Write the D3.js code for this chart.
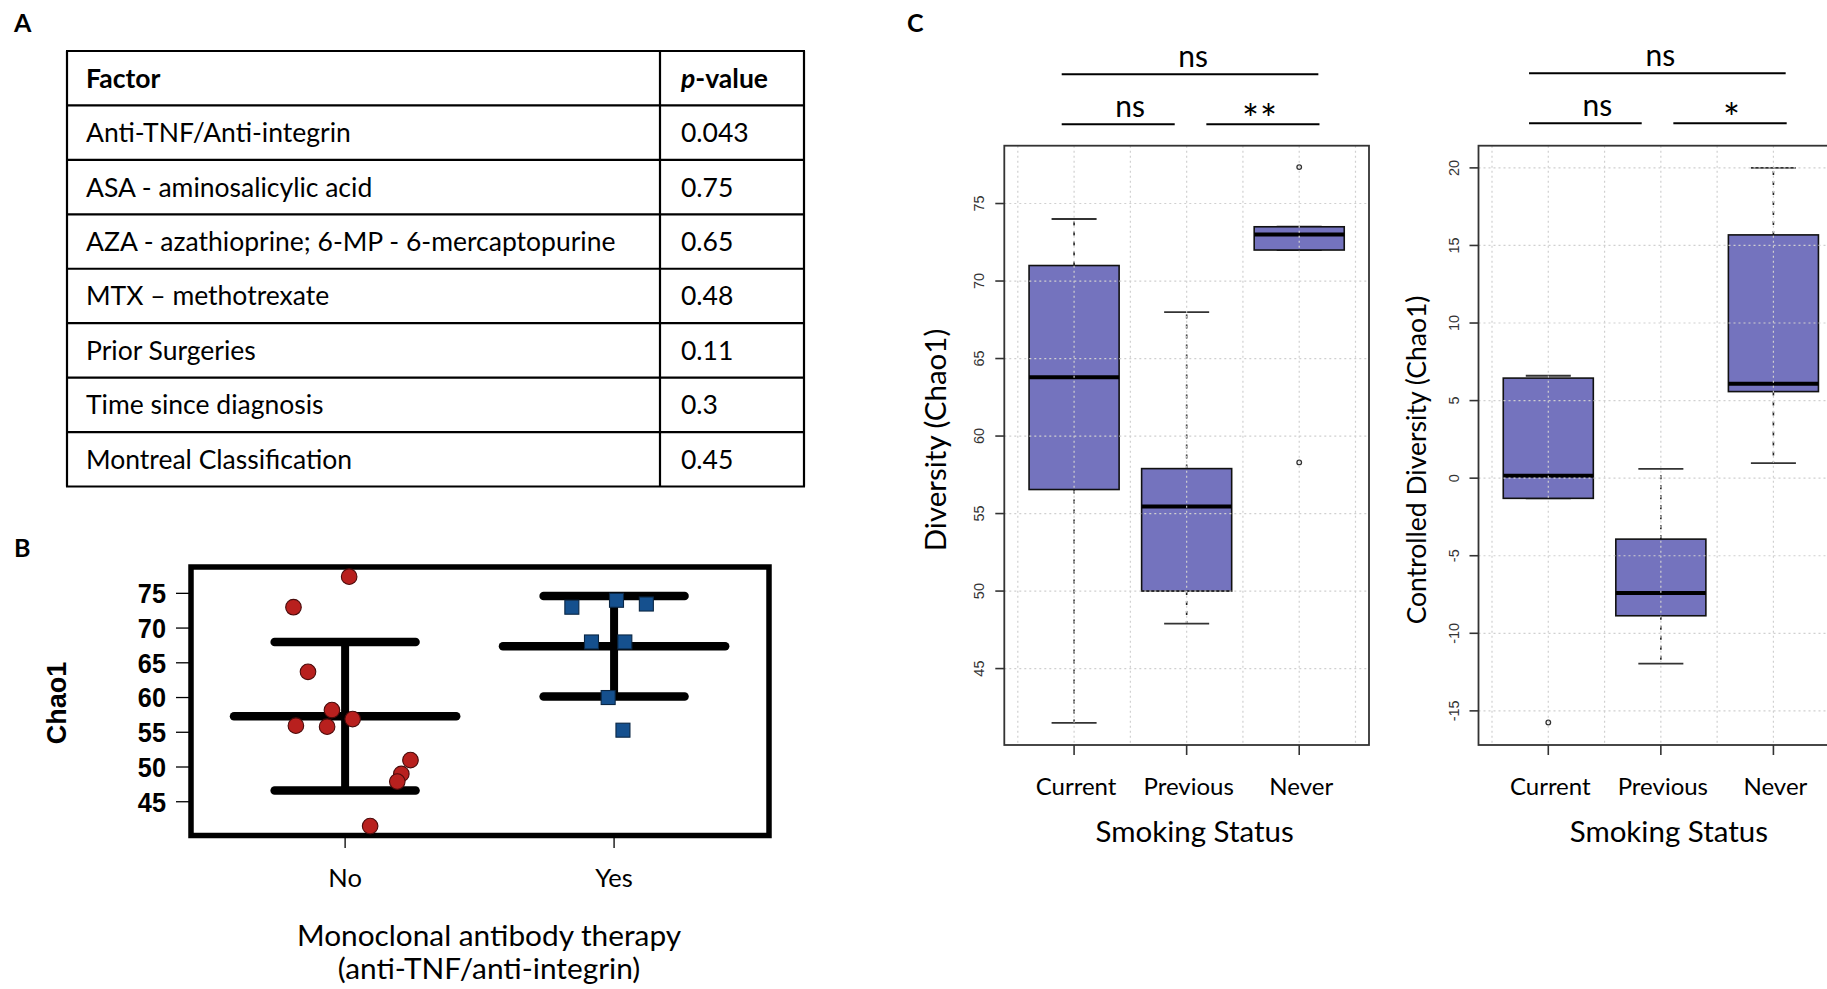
<!DOCTYPE html>
<html><head><meta charset="utf-8">
<script src="https://cdn.jsdelivr.net/npm/d3@7"></script>
<style>body{margin:0;background:#fff} svg{display:block}</style>
</head><body>
<svg id="fig" width="1827" height="989"></svg>
<script>
// ---------------- DATA ----------------
const tableHeaderFactor = "Factor";
const tableFactors = [
  "Anti-TNF/Anti-integrin",
  "ASA - aminosalicylic acid",
  "AZA - azathioprine; 6-MP - 6-mercaptopurine",
  "MTX \u2013 methotrexate",
  "Prior Surgeries",
  "Time since diagnosis",
  "Montreal Classification"
];
const tablePValues = ["0.043", "0.75", "0.65", "0.48", "0.11", "0.3", "0.45"];

const therapyGroups = ["No", "Yes"];
const chaoNo =        [77.4, 73.0, 63.7, 58.2, 55.8, 55.95, 56.9, 51.0, 49.0, 47.9, 41.5];
const chaoNoJitter =  [0.015, -0.192, -0.138, -0.049, -0.067, -0.183, 0.028, 0.243, 0.209, 0.194, 0.093];
const chaoYes =       [73.0, 74.0, 73.46, 68.0, 68.0, 60.0, 55.3];
const chaoYesJitter = [-0.157, 0.009, 0.12, -0.084, 0.040, -0.022, 0.033];
const chaoTicks = [45, 50, 55, 60, 65, 70, 75];

const smokingStatus = ["Current", "Previous", "Never"];
const divMin =    [41.5, 47.9, 72.0];
const divQ1 =     [56.55, 50.0, 72.0];
const divMedian = [63.8, 55.45, 73.0];
const divQ3 =     [71.0, 57.9, 73.5];
const divMax =    [74.0, 68.0, 73.5];
const divOutliers = [[], [], [77.35, 58.3]];
const divTicks = [45, 50, 55, 60, 65, 70, 75];

const ctlMin =    [-1.3, -11.95, 0.97];
const ctlQ1 =     [-1.3, -8.87, 5.58];
const ctlMedian = [0.15, -7.4, 6.08];
const ctlQ3 =     [6.45, -3.93, 15.68];
const ctlMax =    [6.6, 0.6, 20.0];
const ctlOutliers = [[-15.75], [], []];
const ctlTicks = [-15, -10, -5, 0, 5, 10, 15, 20];

const divComparisons = [["Current", "Never", "ns"], ["Current", "Previous", "ns"], ["Previous", "Never", "**"]];
const ctlComparisons = [["Current", "Never", "ns"], ["Current", "Previous", "ns"], ["Previous", "Never", "*"]];

// ---------------- DRAWING ----------------
const svg = d3.select("#fig");
svg.append("rect").attr("width", 1827).attr("height", 989).attr("fill", "#fff");
const CAL = "Lato, 'Open Sans', sans-serif";
const HEL = "'Liberation Sans', Arial, sans-serif";

// Panel letters
[["A", 14, 32], ["B", 14, 557], ["C", 907, 32]].forEach(([t, x, y]) =>
  svg.append("text").attr("x", x).attr("y", y).text(t)
    .attr("font-family", CAL).attr("font-weight", 700).attr("font-size", 25));

// ---- Panel A : table ----
(function () {
  const g = svg.append("g");
  const rows = [tableHeaderFactor].concat(tableFactors);
  const left = 67, right = 804, div = 660, top = 51, bottom = 486.5;
  const yRow = d3.scaleBand().domain(d3.range(rows.length)).range([top, bottom]);
  g.selectAll("line.h").data(d3.range(rows.length + 1)).join("line")
    .attr("x1", left - 1).attr("x2", right + 1)
    .attr("y1", i => i < rows.length ? yRow(i) : bottom)
    .attr("y2", i => i < rows.length ? yRow(i) : bottom)
    .attr("stroke", "#000").attr("stroke-width", 2.2);
  [left, div, right].forEach(x => g.append("line").attr("x1", x).attr("x2", x)
    .attr("y1", top).attr("y2", bottom).attr("stroke", "#000").attr("stroke-width", 2.2));
  const fs = 26.5;
  g.selectAll("text.f").data(rows).join("text")
    .attr("x", 86).attr("y", (d, i) => yRow(i) + yRow.bandwidth() / 2 + 9.5)
    .attr("font-family", CAL).attr("font-size", fs)
    .attr("font-weight", (d, i) => i === 0 ? 700 : 400).text(d => d);
  const ph = g.append("text").attr("x", 681).attr("y", yRow(0) + yRow.bandwidth() / 2 + 9.5)
    .attr("font-family", CAL).attr("font-size", fs).attr("font-weight", 700);
  ph.append("tspan").attr("font-style", "italic").text("p");
  ph.append("tspan").text("-value");
  g.selectAll("text.p").data(tablePValues).join("text")
    .attr("x", 681).attr("y", (d, i) => yRow(i + 1) + yRow.bandwidth() / 2 + 9.5)
    .attr("font-family", CAL).attr("font-size", fs).text(d => d);
})();

// ---- Panel B : dot plot ----
(function () {
  const g = svg.append("g");
  const x = d3.scaleLinear().domain([0.427, 2.576]).range([191, 769]);
  const y = d3.scaleLinear().domain([40.14, 78.79]).range([835.5, 567]);
  g.selectAll("line.yt").data(chaoTicks).join("line")
    .attr("x1", 176).attr("x2", 191).attr("y1", d => y(d)).attr("y2", d => y(d))
    .attr("stroke", "#000").attr("stroke-width", 1.3);
  g.selectAll("text.yt").data(chaoTicks).join("text")
    .attr("x", 166).attr("y", d => y(d)).attr("dy", "0.36em").attr("text-anchor", "end")
    .attr("font-family", HEL).attr("font-weight", 700).attr("font-size", 27.5)
    .attr("transform", d => `translate(${166},${y(d)}) scale(0.92,1) translate(${-166},${-y(d)})`)
    .text(d => d);
  g.append("text").attr("transform", `translate(66,703) rotate(-90)`)
    .attr("text-anchor", "middle").attr("font-family", HEL).attr("font-weight", 700)
    .attr("font-size", 27).text("Chao1");
  g.selectAll("line.xt").data(therapyGroups).join("line")
    .attr("x1", (d, i) => x(i + 1)).attr("x2", (d, i) => x(i + 1))
    .attr("y1", 836).attr("y2", 848).attr("stroke", "#000").attr("stroke-width", 1.3);
  g.selectAll("text.xt").data(therapyGroups).join("text")
    .attr("x", (d, i) => x(i + 1)).attr("y", 887).attr("text-anchor", "middle")
    .attr("font-family", CAL).attr("font-size", 25.5).text(d => d);
  g.append("text").attr("x", 489).attr("y", 946).attr("text-anchor", "middle")
    .attr("font-family", CAL).attr("font-size", 29.8).text("Monoclonal antibody therapy");
  g.append("text").attr("x", 489).attr("y", 979).attr("text-anchor", "middle")
    .attr("font-family", CAL).attr("font-size", 29.8).text("(anti-TNF/anti-integrin)");
  g.append("rect").attr("x", 191).attr("y", 567).attr("width", 578).attr("height", 268.5)
    .attr("fill", "none").attr("stroke", "#000").attr("stroke-width", 5.5);
  [chaoNo, chaoYes].forEach((vals, i) => {
    const m = d3.mean(vals), s = d3.deviation(vals), cx = i + 1;
    g.append("line").attr("x1", x(cx)).attr("x2", x(cx)).attr("y1", y(m + s)).attr("y2", y(m - s))
      .attr("stroke", "#000").attr("stroke-width", 8);
    [[m, 0.413], [m + s, 0.262], [m - s, 0.262]].forEach(([v, hw]) =>
      g.append("line").attr("x1", x(cx - hw)).attr("x2", x(cx + hw)).attr("y1", y(v)).attr("y2", y(v))
        .attr("stroke", "#000").attr("stroke-width", 8.5).attr("stroke-linecap", "round"));
  });
  g.selectAll("circle.no").data(chaoNo).join("circle")
    .attr("cx", (d, i) => x(1 + chaoNoJitter[i])).attr("cy", d => y(d)).attr("r", 7.8)
    .attr("fill", "#b8201e").attr("stroke", "#4a0b0b").attr("stroke-width", 1.1);
  g.selectAll("rect.yes").data(chaoYes).join("rect")
    .attr("x", (d, i) => x(2 + chaoYesJitter[i]) - 7).attr("y", d => y(d) - 7)
    .attr("width", 14).attr("height", 14)
    .attr("fill", "#15508e").attr("stroke", "#0b2744").attr("stroke-width", 1.1);
})();

// ---- Panel C : boxplots ----
function boxPanel(opt) {
  const g = svg.append("g");
  const x = d3.scaleLinear().domain([0.38, 3.62]).range([opt.left, opt.left + 364.7]);
  const y = d3.scaleLinear().domain(opt.ydom).range([745, 145.7]);
  const cats = smokingStatus;
  const hw = 0.4, cw = 0.2;
  cats.forEach((c, i) => {
    const cx = i + 1;
    [[opt.q3[i], opt.max[i]], [opt.q1[i], opt.min[i]]].forEach(([a, b]) => {
      if (a !== b) g.append("line").attr("x1", x(cx)).attr("x2", x(cx)).attr("y1", y(a)).attr("y2", y(b))
        .attr("stroke", "#222").attr("stroke-width", 1.6).attr("stroke-dasharray", "4,6");
    });
    [opt.max[i], opt.min[i]].forEach(v => g.append("line")
      .attr("x1", x(cx - cw)).attr("x2", x(cx + cw)).attr("y1", y(v)).attr("y2", y(v))
      .attr("stroke", "#333").attr("stroke-width", 1.8));
    g.append("rect").attr("x", x(cx - hw)).attr("width", x(cx + hw) - x(cx - hw))
      .attr("y", y(opt.q3[i])).attr("height", y(opt.q1[i]) - y(opt.q3[i]))
      .attr("fill", "#7473be").attr("stroke", "#111").attr("stroke-width", 1.6);
    g.append("line").attr("x1", x(cx - hw)).attr("x2", x(cx + hw))
      .attr("y1", y(opt.med[i])).attr("y2", y(opt.med[i]))
      .attr("stroke", "#000").attr("stroke-width", 4);
    g.selectAll(null).data(opt.out[i]).join("circle")
      .attr("cx", x(cx)).attr("cy", d => y(d)).attr("r", 2.3)
      .attr("fill", "none").attr("stroke", "#333").attr("stroke-width", 1.3);
  });
  const gx = [0.5, 1, 1.5, 2, 2.5, 3, 3.5];
  g.selectAll("line.gx").data(gx).join("line")
    .attr("x1", d => x(d)).attr("x2", d => x(d)).attr("y1", 145.7).attr("y2", 745)
    .attr("stroke", "#d0d0d0").attr("stroke-width", 1.2).attr("stroke-dasharray", "2,3");
  g.selectAll("line.gy").data(opt.ticks).join("line")
    .attr("x1", opt.left).attr("x2", opt.left + 364.7).attr("y1", d => y(d)).attr("y2", d => y(d))
    .attr("stroke", "#d0d0d0").attr("stroke-width", 1.2).attr("stroke-dasharray", "2,3");
  g.append("rect").attr("x", opt.left).attr("y", 145.7).attr("width", 364.7).attr("height", 599.3)
    .attr("fill", "none").attr("stroke", "#333").attr("stroke-width", 1.8);
  g.selectAll("line.yt").data(opt.ticks).join("line")
    .attr("x1", opt.left - 9).attr("x2", opt.left).attr("y1", d => y(d)).attr("y2", d => y(d))
    .attr("stroke", "#333").attr("stroke-width", 1.6);
  g.selectAll("text.yt").data(opt.ticks).join("text")
    .attr("transform", d => `translate(${opt.left - 20},${y(d)}) rotate(-90)`)
    .attr("text-anchor", "middle").attr("font-family", HEL).attr("font-size", 14.5)
    .attr("fill", "#333").text(d => d);
  g.selectAll("line.xt").data(cats).join("line")
    .attr("x1", (d, i) => x(i + 1)).attr("x2", (d, i) => x(i + 1)).attr("y1", 745).attr("y2", 755)
    .attr("stroke", "#333").attr("stroke-width", 1.6);
  g.selectAll("text.xt").data(cats).join("text")
    .attr("x", (d, i) => x(i + 1) + 2).attr("y", 795).attr("text-anchor", "middle")
    .attr("font-family", CAL).attr("font-size", 24).text(d => d);
  g.append("text").attr("x", x(2) + 8).attr("y", 841.7).attr("text-anchor", "middle")
    .attr("font-family", CAL).attr("font-size", 29.5).text("Smoking Status");
  g.append("text").attr("transform", `translate(${opt.labX},${opt.labY}) rotate(-90)`)
    .attr("text-anchor", "middle").attr("font-family", CAL).attr("font-size", opt.labSize).text(opt.ylabel);
  opt.comps.forEach((c, k) => {
    const a = cats.indexOf(c[0]) + 1, b = cats.indexOf(c[1]) + 1;
    const off = opt.brOff[k];
    const x1 = x(a + off[0]), x2 = x(b + off[1]);
    const ly = opt.brY[k];
    g.append("line").attr("x1", x1).attr("x2", x2).attr("y1", ly).attr("y2", ly)
      .attr("stroke", "#000").attr("stroke-width", 2);
    const star = c[2].indexOf("*") >= 0;
    g.append("text").attr("x", (x1 + x2) / 2 + off[2]).attr("y", star ? ly + 10 : ly - 7)
      .attr("text-anchor", "middle").attr("font-family", CAL)
      .attr("font-size", star ? 40 : 30).attr("letter-spacing", star ? 1 : 0).text(c[2]);
  });
}

boxPanel({
  left: 1004.3, ydom: [40.07, 78.73], ticks: divTicks,
  min: divMin, q1: divQ1, med: divMedian, q3: divQ3, max: divMax, out: divOutliers,
  ylabel: "Diversity (Chao1)", labX: 946, labY: 440, labSize: 29.5,
  comps: divComparisons, brY: [74.3, 124.3, 124.3],
  brOff: [[-0.11, 0.17, 3], [-0.11, -0.106, 12], [0.175, 0.18, -3]]
});
boxPanel({
  left: 1478.5, ydom: [-17.2, 21.43], ticks: ctlTicks,
  min: ctlMin, q1: ctlQ1, med: ctlMedian, q3: ctlQ3, max: ctlMax, out: ctlOutliers,
  ylabel: "Controlled Diversity (Chao1)", labX: 1426, labY: 460, labSize: 26.5,
  comps: ctlComparisons, brY: [73.3, 123.3, 123.3],
  brOff: [[-0.171, 0.109, 3], [-0.171, -0.17, 12], [0.111, 0.118, 2]]
});
</script>
</body></html>
